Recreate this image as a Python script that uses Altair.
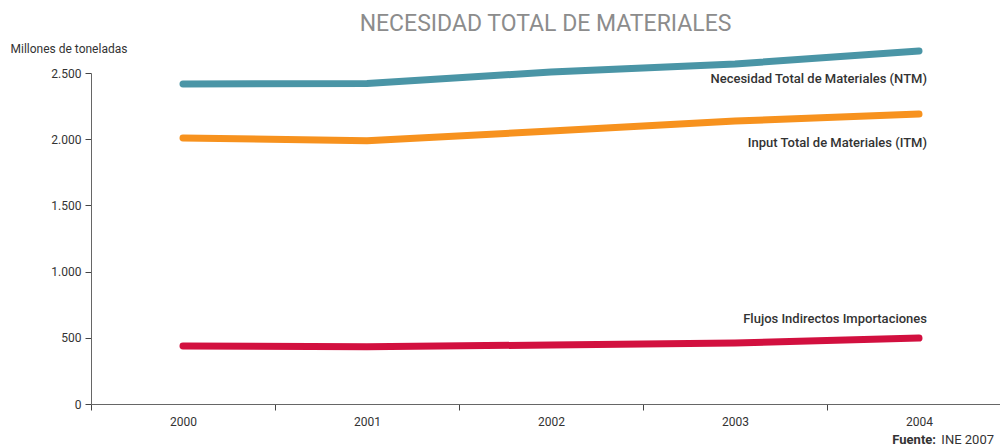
import altair as alt
import pandas as pd

years = ["2000", "2001", "2002", "2003", "2004"]
ntm = [2417, 2420, 2508, 2568, 2666]
itm = [2009, 1988, 2062, 2137, 2190]
fii = [438, 432, 446, 461, 498]

series_names = [
    "Necesidad Total de Materiales (NTM)",
    "Input Total de Materiales (ITM)",
    "Flujos Indirectos Importaciones",
]
series_values = [ntm, itm, fii]
colors = ["#4a95a6", "#f7921e", "#d2103f"]
label_dy = [28, 29, -19]

rows = []
for name, vals in zip(series_names, series_values):
    for y, v in zip(years, vals):
        rows.append({"year": y, "value": v, "serie": name})
df = pd.DataFrame(rows)

FONT = "Roboto"

x_enc = alt.X(
    "year:O",
    scale=alt.Scale(type="band", paddingInner=0, paddingOuter=0, range=[0, 920]),
    axis=alt.Axis(
        title=None, labelAngle=0, tickBand="extent", grid=False,
        domainColor="#666", tickColor="#444", tickSize=6,
        labelColor="#333", labelFont=FONT, labelFontSize=12, labelPadding=6,
    ),
)
y_enc = alt.Y(
    "value:Q",
    scale=alt.Scale(domain=[0, 2500], nice=False),
    axis=alt.Axis(
        title="Millones de toneladas", titleAngle=0, titleAlign="left",
        titleBaseline="middle", titleX=-81, titleY=-25,
        titleFont=FONT, titleFontSize=12, titleFontWeight="normal", titleColor="#333",
        values=[0, 500, 1000, 1500, 2000, 2500], grid=False,
        labelExpr="replace(format(datum.value, ','), ',', '.')",
        domainColor="#666", tickColor="#444", tickSize=6,
        labelColor="#333", labelFont=FONT, labelFontSize=12, labelPadding=4,
    ),
)
color_enc = alt.Color(
    "serie:N",
    scale=alt.Scale(domain=series_names, range=colors),
    legend=None,
)

lines = alt.Chart(df).mark_line(strokeWidth=7, strokeCap="round", strokeJoin="round").encode(
    x=x_enc, y=y_enc, color=color_enc
)

label_layers = []
for name, v, d in zip(series_names, series_values, label_dy):
    sub = pd.DataFrame({"year": [years[-1]], "value": [v[-1]], "serie": [name]})
    label_layers.append(
        alt.Chart(sub).mark_text(
            align="right", baseline="middle", dx=8, dy=d, font=FONT, fontSize=13,
            fontWeight=500, color="#333",
        ).encode(x="year:O", y="value:Q", text="serie:N")
    )

src = pd.DataFrame({"a": ["Fuente:"], "b": ["INE 2007"]})
fuente1 = alt.Chart(src).mark_text(
    align="right", baseline="middle", font=FONT, fontSize=13, fontWeight="bold", color="#333"
).encode(x=alt.value(845), y=alt.value(367), text="a:N")
fuente2 = alt.Chart(src).mark_text(
    align="right", baseline="middle", font=FONT, fontSize=13, fontWeight="normal", color="#333"
).encode(x=alt.value(903), y=alt.value(367), text="b:N")

chart = alt.layer(lines, *label_layers, fuente1, fuente2).properties(
    width=909,
    height=331,
    title=alt.TitleParams(
        "NECESIDAD TOTAL DE MATERIALES", font=FONT, fontSize=23, fontWeight="normal",
        color="#8c8c8c", anchor="middle", offset=6,
    ),
    autosize=alt.AutoSizeParams(type="none"),
    padding={"left": 83, "top": 65, "right": 0, "bottom": 43},
).configure_view(stroke=None)

chart.save("out.html", embed_options={"renderer": "svg", "actions": False})
